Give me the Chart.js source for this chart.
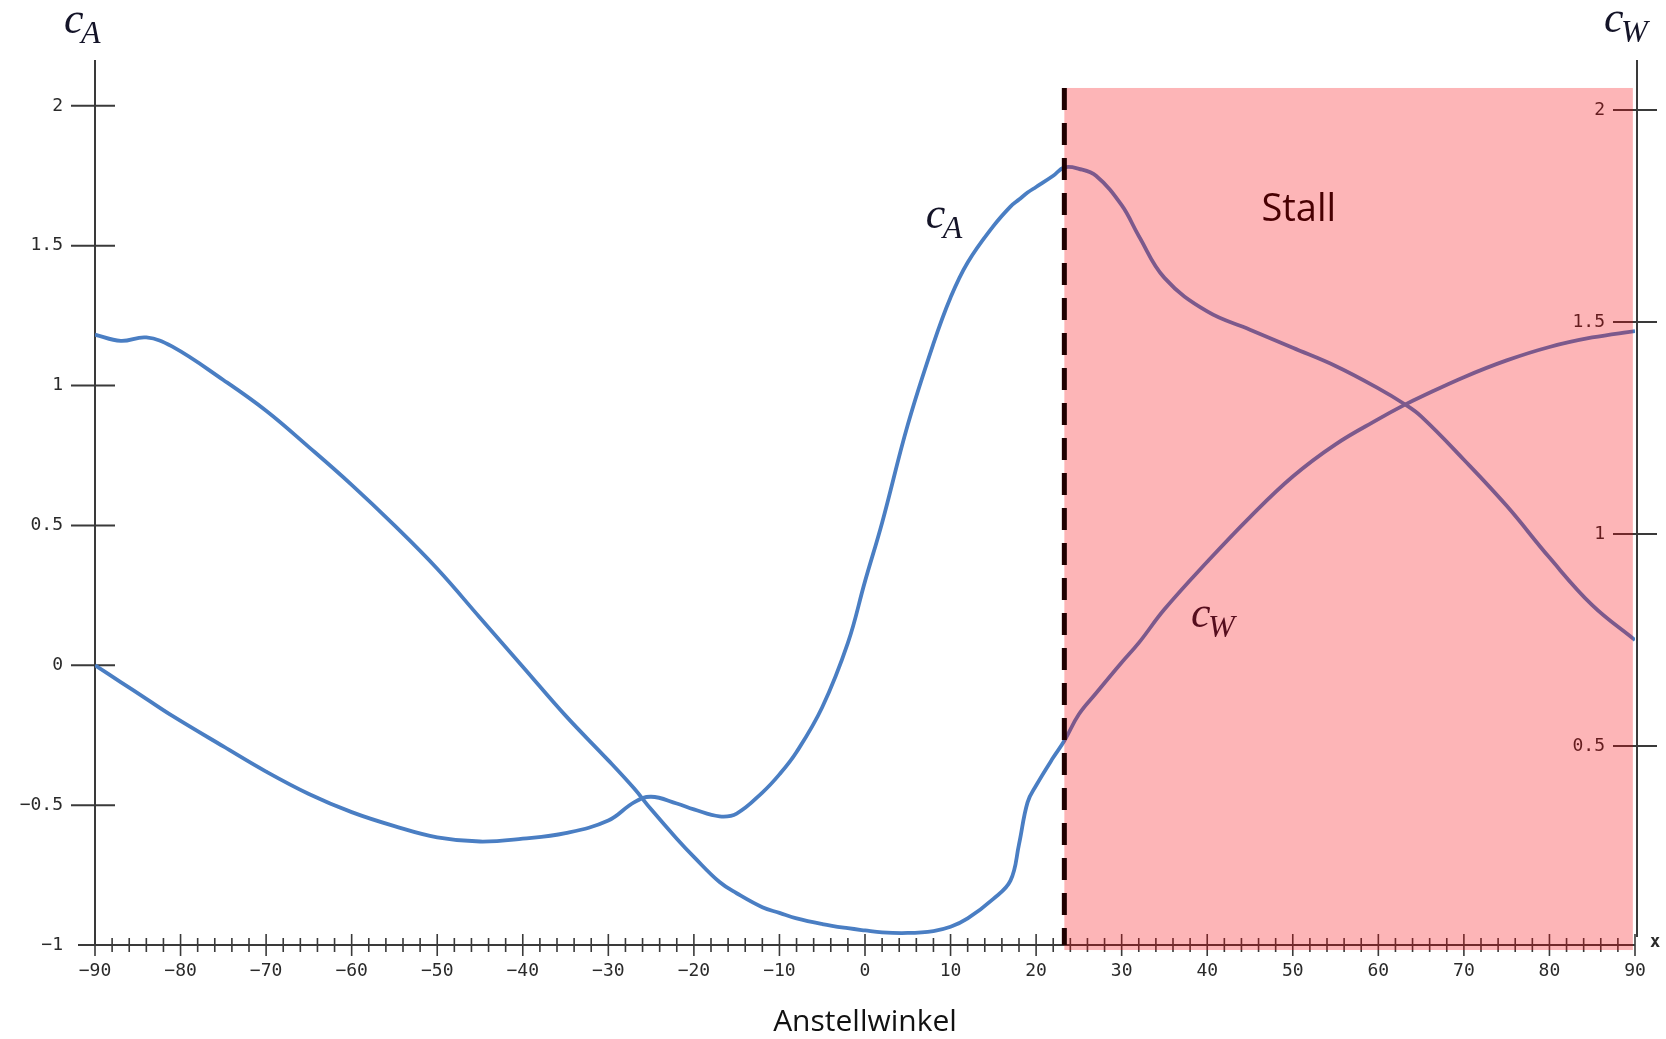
<!DOCTYPE html>
<html lang="de">
<head>
<meta charset="UTF-8">
<title>Auftrieb und Widerstand</title>
<script src="https://cdn.jsdelivr.net/npm/chart.js"></script>
<style>
    body { margin: 0; background: #fff; }
    canvas { display: block; }
</style>
</head>
<body>
<canvas id="graph" width="1666" height="1039"></canvas>
<script>
// Anstellwinkel in Grad
const angles = [-90, -87, -84, -81, -75, -70, -65, -60, -55, -50, -45, -40, -35, -30, -27, -25, -22, -20, -17, -15,
    -12, -10, -8, -5, -2, 0, 2, 5, 8, 10, 12, 15, 17, 18, 19, 20, 22, 23.3, 25, 27,
    30, 32, 35, 40, 45, 50, 55, 60, 63, 65, 70, 75, 80, 85, 90];

// Auftriebsbeiwert
const cA = [0, -0.06, -0.12, -0.18, -0.29, -0.38, -0.46, -0.525, -0.575, -0.615, -0.63, -0.62, -0.6, -0.555, -0.49, -0.47, -0.494, -0.515, -0.54, -0.53,
    -0.455, -0.39, -0.31, -0.15, 0.08, 0.3, 0.51, 0.86, 1.15, 1.315, 1.44, 1.57, 1.64, 1.665, 1.69, 1.71, 1.75, 1.78, 1.775, 1.75,
    1.645, 1.535, 1.385, 1.265, 1.2, 1.135, 1.07, 0.99, 0.935, 0.89, 0.735, 0.57, 0.385, 0.215, 0.09];

// Widerstandsbeiwert
const cW = [1.182, 1.16, 1.172, 1.14, 1.02, 0.91, 0.78, 0.645, 0.5, 0.345, 0.17, -0.005, -0.18, -0.34, -0.44, -0.515, -0.62, -0.685, -0.775, -0.815,
    -0.865, -0.885, -0.905, -0.925, -0.94, -0.948, -0.955, -0.957, -0.95, -0.935, -0.905, -0.835, -0.77, -0.64, -0.49, -0.43, -0.33, -0.27, -0.175, -0.1,
    0.01, 0.08, 0.2, 0.37, 0.53, 0.675, 0.79, 0.88, 0.93, 0.96, 1.03, 1.09, 1.138, 1.172, 1.195];

const xMajorTicks = [-90, -80, -70, -60, -50, -40, -30, -20, -10, 0, 10, 20, 30, 40, 50, 60, 70, 80, 90];
const xMinorStep = 2;
const leftTicks = [-1, -0.5, 0, 0.5, 1, 1.5, 2];
const rightTicks = [0.5, 1, 1.5, 2];
const stallAngle = 23.3;

const blue = '#4a7ec3';
const tickFont = '18px "DejaVu Sans Mono"';

function fmt(v) {
    return String(v).replace('-', '\u2212');
}

// c mit Index, z.B. c_A
function drawSymbol(ctx, sub, left, base) {
    ctx.textAlign = 'left';
    ctx.textBaseline = 'alphabetic';
    ctx.font = 'italic 44px "Liberation Serif"';
    ctx.fillText('c', left, base);
    ctx.font = 'italic 32px "Liberation Serif"';
    ctx.fillText(sub, left + 17, base + 10);
}

const axesPlugin = {
    id: 'axes',
    beforeDatasetsDraw(chart) {
        const { ctx, chartArea, scales: { x, y, yR } } = chart;
        const ax = x.getPixelForValue(-90);
        const xEnd = x.getPixelForValue(90);
        const rx = xEnd + 2;
        const ay = y.getPixelForValue(-1);
        ctx.save();
        ctx.strokeStyle = '#3a3a3a';
        ctx.fillStyle = '#2a2a2a';
        ctx.lineWidth = 2;

        ctx.beginPath();
        ctx.moveTo(ax, chartArea.top); ctx.lineTo(ax, ay);
        ctx.moveTo(ax - 17, ay); ctx.lineTo(xEnd, ay);
        ctx.moveTo(rx, chartArea.top); ctx.lineTo(rx, ay - 8);
        ctx.stroke();

        // x ticks
        ctx.lineWidth = 1.6;
        ctx.beginPath();
        for (let v = -90; v <= 90; v += xMinorStep) {
            const px = x.getPixelForValue(v);
            const h = xMajorTicks.includes(v) ? 11 : 7;
            ctx.moveTo(px, ay - h); ctx.lineTo(px, ay + h);
        }
        ctx.stroke();
        ctx.font = tickFont;
        ctx.textAlign = 'center';
        ctx.textBaseline = 'middle';
        xMajorTicks.forEach(v => ctx.fillText(fmt(v), x.getPixelForValue(v), ay + 26));
        ctx.font = 'bold 17px "DejaVu Sans Mono"';
        ctx.fillText('x', xEnd + 20, ay - 2);

        // linke Achse
        ctx.lineWidth = 2;
        ctx.font = tickFont;
        ctx.textAlign = 'right';
        leftTicks.forEach(v => {
            const py = y.getPixelForValue(v);
            if (v !== -1) {
                ctx.beginPath();
                ctx.moveTo(ax - 24, py); ctx.lineTo(ax + 20, py);
                ctx.stroke();
            }
            ctx.fillText(fmt(v), ax - 32, py);
        });

        // rechte Achse
        rightTicks.forEach(v => {
            const py = yR.getPixelForValue(v);
            ctx.beginPath();
            ctx.moveTo(rx - 24, py); ctx.lineTo(rx + 20, py);
            ctx.stroke();
            ctx.fillText(fmt(v), rx - 32, py);
        });

        ctx.fillStyle = '#141428';
        drawSymbol(ctx, 'A', 64, 33);
        drawSymbol(ctx, 'W', 1604, 32);

        ctx.fillStyle = '#111';
        ctx.font = '30px "Open Sans"';
        ctx.textAlign = 'center';
        ctx.textBaseline = 'alphabetic';
        ctx.fillText('Anstellwinkel', x.getPixelForValue(0), 1031);
        ctx.restore();
    },
    afterDatasetsDraw(chart) {
        const { ctx, scales: { x, y } } = chart;
        ctx.save();
        ctx.fillStyle = '#141428';
        drawSymbol(ctx, 'A', x.getPixelForValue(7.1), y.getPixelForValue(1.563));
        drawSymbol(ctx, 'W', x.getPixelForValue(38.1), y.getPixelForValue(0.137));

        ctx.fillStyle = '#000';
        ctx.font = '38px "Open Sans"';
        ctx.textAlign = 'center';
        ctx.fillText('Stall', x.getPixelForValue(50.7), y.getPixelForValue(1.589));

        // Stall-Bereich
        const sx = x.getPixelForValue(stallAngle);
        const top = y.getPixelForValue(2.064);
        ctx.fillStyle = 'rgba(248, 0, 8, 0.29)';
        ctx.fillRect(sx, top, x.getPixelForValue(89.75) - sx, y.getPixelForValue(-1.018) - top);

        ctx.strokeStyle = '#1e0000';
        ctx.lineWidth = 5;
        ctx.setLineDash([22, 13]);
        ctx.beginPath();
        ctx.moveTo(sx, top);
        ctx.lineTo(sx, y.getPixelForValue(-1));
        ctx.stroke();
        ctx.restore();
    }
};

const ctx = document.getElementById('graph');

new Chart(ctx, {
    type: 'line',
    data: {
        datasets: [{
            label: 'cA',
            data: angles.map((a, i) => ({ x: a, y: cA[i] })),
            borderColor: blue,
            borderWidth: 3.8,
            pointRadius: 0,
            tension: 0.4
        }, {
            label: 'cW',
            data: angles.map((a, i) => ({ x: a, y: cW[i] })),
            borderColor: blue,
            borderWidth: 3.8,
            pointRadius: 0,
            tension: 0.4
        }]
    },
    options: {
        responsive: false,
        animation: false,
        layout: { padding: { left: 95, right: 31, top: 60, bottom: 94 } },
        plugins: { legend: { display: false }, tooltip: { enabled: false } },
        scales: {
            x: { type: 'linear', min: -90, max: 90, display: false },
            y: { min: -1, max: 2.164, display: false },
            yR: { position: 'right', min: 0.031, max: 2.118, display: false }
        }
    },
    plugins: [axesPlugin]
});
</script>
</body>
</html>
